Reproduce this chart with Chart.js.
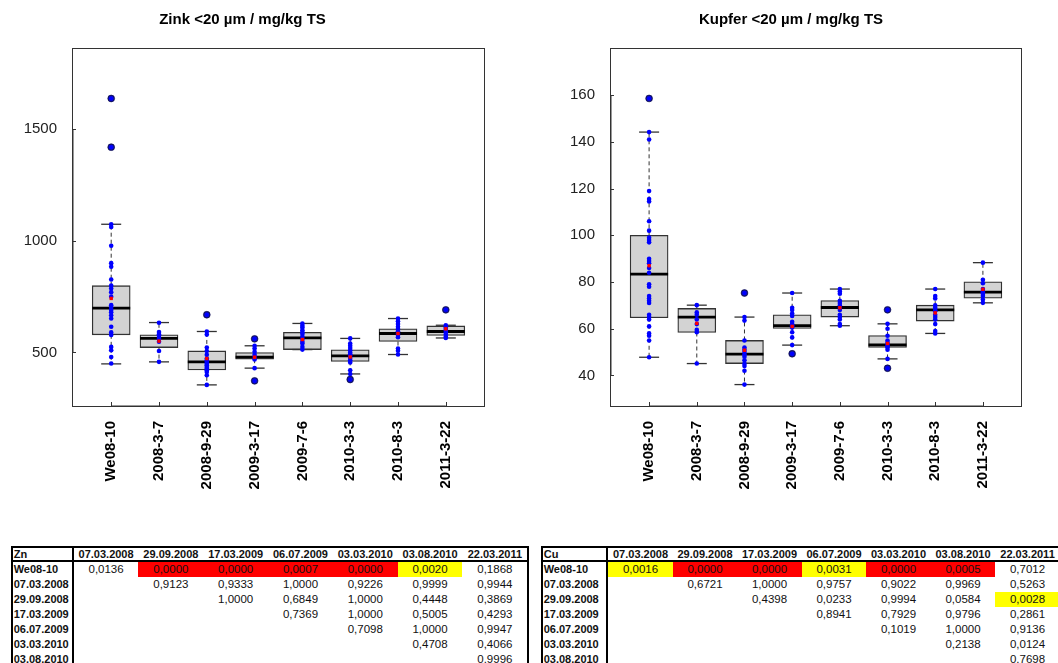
<!DOCTYPE html>
<html>
<head>
<meta charset="utf-8">
<script src="https://cdn.jsdelivr.net/npm/chart.js@4"></script>
<style>
  body { margin: 0; width: 1058px; height: 663px; overflow: hidden; position: relative; background: #fff;
         font-family: "Liberation Sans", Arial, sans-serif; }
  canvas { position: absolute; top: 0; }
  #chart-zn { left: 0; }
  #chart-cu { left: 560px; }
  .ptab { position: absolute; top: 545.7px; border: 2px solid #000; display: grid; color: #111; }
  .ptab div { box-sizing: border-box; white-space: nowrap; overflow: hidden; text-align: center;
              font-size: 11.5px; line-height: 15px; height: 15px; }
  .ptab div.head { font-weight: bold; font-size: 11px; height: 14px; line-height: 12px; border-bottom: 2px solid #000; }
  .ptab div.lab { font-weight: bold; font-size: 11px; text-align: left; padding-left: 1px; border-right: 2px solid #000; }
  .ptab div.red { background: #ff0000; }
  .ptab div.yel { background: #ffff00; }
</style>
</head>
<body>
<canvas id="chart-zn" width="557" height="540"></canvas>
<canvas id="chart-cu" width="512" height="540"></canvas>
<div class="ptab" id="tab-zn" style="left:10.7px; grid-template-columns: 61px repeat(7, 64.8px);"></div>
<div class="ptab" id="tab-cu" style="left:540.7px; grid-template-columns: 65.6px repeat(7, 64.5px);"></div>

<script>
// ==========================================
// 1. DATA
// ==========================================
const categories = ['We08-10', '2008-3-7', '2008-9-29', '2009-3-17', '2009-7-6', '2010-3-3', '2010-8-3', '2011-3-22'];

// Zink
const znTicks = [500, 1000, 1500];
const znQ1 = [579, 522, 422, 470, 513, 460, 549, 576];
const znMedian = [699, 563, 458, 479, 565, 485, 585, 594];
const znQ3 = [799, 579, 507, 500, 590, 512, 606, 619];
const znWhiskerLow = [449, 458, 355, 430, 513, 404, 491, 565];
const znWhiskerHigh = [1074, 634, 594, 530, 630, 563, 652, 622];
const znMean = [742, 551, 473, 479, 558, 480, 585, 606];
const znOutliers = [[1637, 1419], [], [669], [561, 373], [], [379], [], [691]];
const znValues = [
  [1637, 1419, 1074, 1062, 978, 900, 884, 827, 800, 787, 770, 750, 712, 700, 690, 680, 667, 652, 615, 590, 578, 525, 510, 480, 451],
  [633, 592, 582, 575, 565, 558, 548, 507, 458],
  [669, 594, 580, 522, 507, 490, 473, 465, 458, 450, 443, 435, 428, 420, 413, 398, 355],
  [561, 530, 518, 503, 490, 480, 469, 430, 373],
  [630, 620, 612, 600, 590, 583, 570, 560, 548, 540, 525, 513],
  [563, 540, 530, 520, 510, 500, 492, 485, 475, 465, 455, 420, 404, 379],
  [652, 640, 628, 615, 605, 595, 585, 578, 568, 518, 508, 491],
  [691, 622, 612, 605, 598, 590, 580, 570, 565]
];

// Kupfer
const cuTicks = [40, 60, 80, 100, 120, 140, 160];
const cuQ1 = [64.7, 58.4, 45.1, 60.1, 65, 52, 63.3, 73.1];
const cuMedian = [83.4, 65, 49.1, 61.3, 69.1, 53.1, 68.1, 75.7];
const cuQ3 = [100, 68.7, 55, 66, 72.1, 57.1, 70.1, 80.1];
const cuWhiskerLow = [47.8, 45.1, 36.1, 53, 61.3, 47.1, 58, 71.1];
const cuWhiskerHigh = [144.2, 70.1, 65, 75.3, 77, 62.1, 77, 88.3];
const cuMean = [87, 62.3, 50.8, 61, 69, 53.7, 66.8, 76.9];
const cuOutliers = [[158.6], [], [75.3], [49.3], [], [68.1, 43.1], [], []];
const cuValues = [
  [158.6, 144.2, 141, 119, 115.5, 114.5, 106, 102, 99, 98, 97, 90, 89, 88, 86, 84, 79, 78, 74, 73, 72, 71, 66, 65, 64, 61, 58, 57, 55, 47.8],
  [70.1, 67, 66, 64, 62, 59.5, 58.5, 45.1],
  [75.3, 65, 63.5, 55, 52, 51, 50, 49, 48, 46.5, 45, 44, 42, 36.1],
  [75.3, 69, 68, 66.5, 65.5, 63, 62, 61.5, 61, 60.5, 58.5, 56.3, 53, 49.3],
  [77, 76, 75, 72, 71, 70, 69, 68, 66, 65, 64, 62, 61.3],
  [68.1, 62.1, 60, 57, 55, 54, 53, 52.5, 52, 51, 47.1, 43.1],
  [77, 74, 73, 70, 69, 68, 67.5, 66, 65, 64, 62, 59, 58],
  [88.3, 81, 79.5, 77, 76, 75.5, 75, 74, 72.5, 71.1]
];

// p-value tables
const colLabels = ['07.03.2008', '29.09.2008', '17.03.2009', '06.07.2009', '03.03.2010', '03.08.2010', '22.03.2011'];
const rowLabels = ['We08-10', '07.03.2008', '29.09.2008', '17.03.2009', '06.07.2009', '03.03.2010', '03.08.2010'];
const znP = [
  [0.0136, 0.0000, 0.0000, 0.0007, 0.0000, 0.0020, 0.1868],
  [null, 0.9123, 0.9333, 1.0000, 0.9226, 0.9999, 0.9944],
  [null, null, 1.0000, 0.6849, 1.0000, 0.4448, 0.3869],
  [null, null, null, 0.7369, 1.0000, 0.5005, 0.4293],
  [null, null, null, null, 0.7098, 1.0000, 0.9947],
  [null, null, null, null, null, 0.4708, 0.4066],
  [null, null, null, null, null, null, 0.9996]
];
const cuP = [
  [0.0016, 0.0000, 0.0000, 0.0031, 0.0000, 0.0005, 0.7012],
  [null, 0.6721, 1.0000, 0.9757, 0.9022, 0.9969, 0.5263],
  [null, null, 0.4398, 0.0233, 0.9994, 0.0584, 0.0028],
  [null, null, null, 0.8941, 0.7929, 0.9796, 0.2861],
  [null, null, null, null, 0.1019, 1.0000, 0.9136],
  [null, null, null, null, null, 0.2138, 0.0124],
  [null, null, null, null, null, null, 0.7698]
];

// ==========================================
// 2. BOXPLOT CHARTS
// ==========================================
const FONT = "'Liberation Sans', Arial, sans-serif";

// frame around the plot + inward tick marks (like the R plot)
const framePlugin = {
  id: 'frame',
  afterDraw(chart) {
    const { ctx, chartArea: a, scales: { x, y } } = chart;
    ctx.save();
    ctx.strokeStyle = '#333';
    ctx.lineWidth = 1;
    ctx.strokeRect(Math.round(a.left) + 0.5, Math.round(a.top) + 0.5, Math.round(a.width) - 1, Math.round(a.height) - 1);
    ctx.beginPath();
    y.ticks.forEach(t => {
      const py = Math.round(y.getPixelForValue(t.value)) + 0.5;
      ctx.moveTo(a.left, py); ctx.lineTo(a.left + 4, py);
    });
    x.ticks.forEach(t => {
      const px = Math.round(x.getPixelForValue(t.value)) + 0.5;
      ctx.moveTo(px, a.bottom); ctx.lineTo(px, a.bottom - 5);
    });
    ctx.stroke();
    // axis line spans first..last tick (a bit heavier)
    ctx.beginPath();
    ctx.moveTo(a.left + 1, y.getPixelForValue(y.ticks[0].value));
    ctx.lineTo(a.left + 1, y.getPixelForValue(y.ticks[y.ticks.length - 1].value));
    ctx.moveTo(x.getPixelForValue(1), a.bottom - 1);
    ctx.lineTo(x.getPixelForValue(categories.length), a.bottom - 1);
    ctx.stroke();
    ctx.restore();
  }
};

function makeBoxChart(id, title, yMin, yMax, yTicks, q1, median, q3, wLo, wHi, mean, outliers, values, yWidth, padRight) {
  const boxes = [], medians = [], caps = [], whiskers = [], means = [], pts = [], outs = [];
  categories.forEach((c, i) => {
    const x = i + 1;
    boxes.push({ x, y: [q1[i], q3[i]] });
    medians.push({ x, y: median[i] });
    caps.push({ x, y: wLo[i] }, { x, y: wHi[i] });
    whiskers.push({ x, y: q3[i] }, { x, y: wHi[i] }, { x, y: null },
                  { x, y: q1[i] }, { x, y: wLo[i] }, { x, y: null });
    means.push({ x, y: mean[i] });
    values[i].forEach(v => pts.push({ x, y: v }));
    outliers[i].forEach(v => outs.push({ x, y: v }));
  });

  return new Chart(document.getElementById(id), {
    type: 'scatter',
    data: {
      datasets: [
        { type: 'scatter', data: means, pointStyle: 'rect', radius: 2.4, backgroundColor: '#ff0000', borderColor: '#ff0000', borderWidth: 0, order: 0 },
        { type: 'scatter', data: pts, radius: 2.3, backgroundColor: '#0000ff', borderWidth: 0, order: 1 },
        { type: 'scatter', data: outs, radius: 3.4, backgroundColor: '#14148c', borderColor: '#000040', borderWidth: 0.6, order: 2 },
        { type: 'scatter', data: medians, pointStyle: 'line', radius: 19, borderColor: '#000', borderWidth: 2.8, order: 3 },
        { type: 'scatter', data: caps, pointStyle: 'line', radius: 10, borderColor: '#333', borderWidth: 1.3, order: 4 },
        { type: 'line', data: whiskers, showLine: true, spanGaps: false, fill: false, tension: 0, pointRadius: 0,
          borderColor: '#333', borderWidth: 1, borderDash: [4, 3], order: 5 },
        { type: 'bar', data: boxes, backgroundColor: '#d3d3d3', borderColor: '#333', borderWidth: 1.3,
          borderSkipped: false, barThickness: 38, grouped: false, order: 6 }
      ]
    },
    options: {
      responsive: false,
      animation: false,
      events: [],
      layout: { padding: { left: 0, right: padRight, top: 0, bottom: 0 } },
      plugins: {
        legend: { display: false },
        tooltip: { enabled: false },
        title: {
          display: true, text: title, color: '#000',
          font: { family: FONT, size: 15, weight: 'bold' },
          padding: { top: 10.5, bottom: 19.5 }
        }
      },
      scales: {
        x: {
          type: 'linear', min: 0.18, max: 8.82, offset: false,
          grid: { display: false, drawTicks: false, offset: false },
          border: { display: false },
          afterBuildTicks: s => { s.ticks = categories.map((c, i) => ({ value: i + 1 })); },
          afterFit: s => { s.height = 133; },
          ticks: {
            autoSkip: false, maxRotation: 90, minRotation: 90, padding: 14, color: '#000',
            font: { family: FONT, size: 15, weight: 'bold' },
            callback: v => categories[v - 1]
          }
        },
        y: {
          min: yMin, max: yMax,
          grid: { display: false, drawTicks: false },
          border: { display: false },
          afterBuildTicks: s => { s.ticks = yTicks.map(v => ({ value: v })); },
          afterFit: s => { s.width = yWidth; },
          ticks: { padding: 15, color: '#222', font: { family: FONT, size: 15 }, callback: v => String(v) }
        }
      }
    },
    plugins: [framePlugin]
  });
}

makeBoxChart('chart-zn', 'Zink <20 µm / mg/kg TS', 256, 1863, znTicks,
  znQ1, znMedian, znQ3, znWhiskerLow, znWhiskerHigh, znMean, znOutliers, znValues, 72, 72);
makeBoxChart('chart-cu', 'Kupfer <20 µm / mg/kg TS', 26.5, 180.2, cuTicks,
  cuQ1, cuMedian, cuQ3, cuWhiskerLow, cuWhiskerHigh, cuMean, cuOutliers, cuValues, 50, 50);

// ==========================================
// 3. P-VALUE TABLES
// ==========================================
function fillTable(id, name, pRows) {
  const tab = document.getElementById(id);
  let html = `<div class="head lab">${name}</div>`;
  colLabels.forEach(c => { html += `<div class="head">${c}</div>`; });
  pRows.forEach((row, r) => {
    html += `<div class="lab">${rowLabels[r]}</div>`;
    row.forEach(p => {
      if (p === null) { html += '<div></div>'; return; }
      const cls = p < 0.001 ? 'red' : (p < 0.01 ? 'yel' : '');
      html += `<div class="${cls}">${p.toFixed(4).replace('.', ',')}</div>`;
    });
  });
  tab.innerHTML = html;
}
fillTable('tab-zn', 'Zn', znP);
fillTable('tab-cu', 'Cu', cuP);
</script>
</body>
</html>
